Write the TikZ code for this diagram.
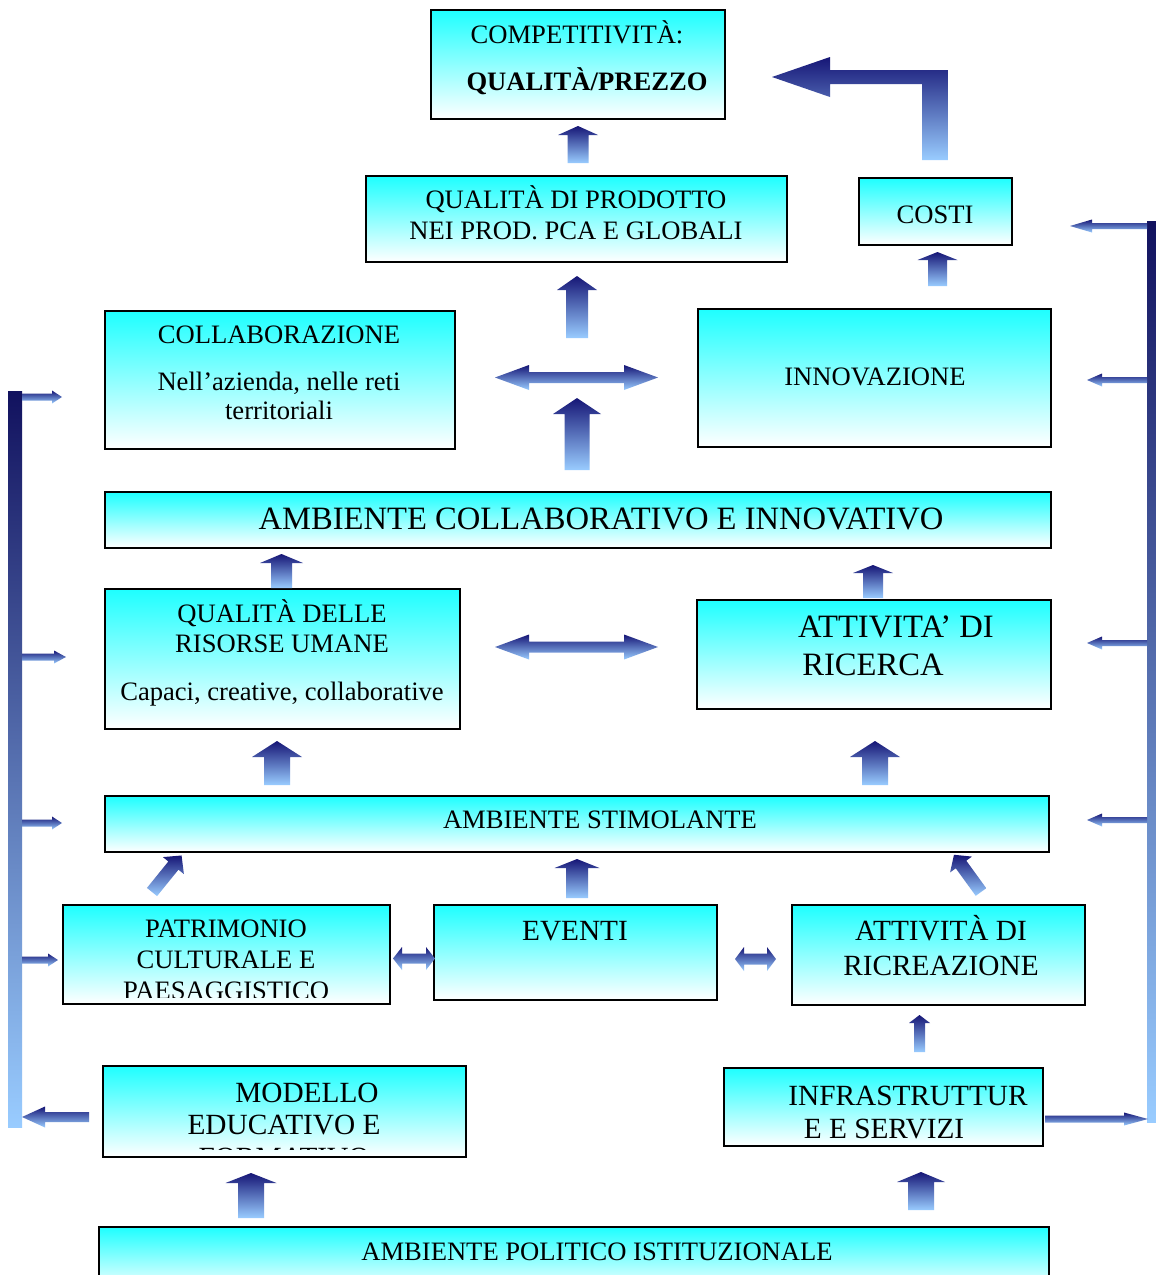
\documentclass[tikz,border=0pt]{standalone}
\usepackage{fontspec}
\setmainfont{Liberation Serif}
\definecolor{navyA}{RGB}{22,22,118}
\definecolor{lightA}{RGB}{153,204,255}
\definecolor{cyanA}{RGB}{30,255,255}
\tikzset{
  boxnode/.style={draw=black, line width=1.5pt, top color=cyanA, bottom color=white, inner sep=0pt},
  arrfill/.style={draw=none, top color=navyA, bottom color=lightA},
  tA/.style={font=\fontsize{26.6}{30}\selectfont, anchor=base, inner sep=0pt},
  tB/.style={font=\fontsize{29.3}{33}\selectfont, anchor=base, inner sep=0pt},
  tC/.style={font=\fontsize{32.6}{36}\selectfont, anchor=base, inner sep=0pt},
}
% box: name, x1, y1, x2, y2
\newcommand\BoxAt[5]{\node[boxnode, minimum width={#4-#2}, minimum height={#5-#3}] (#1) at ({(#2+#4)/2},{(#3+#5)/2}) {};}
% up arrow: cx, tip y, head base y, bottom y, shaft width, head width
\newcommand\UpArr[6]{\path[arrfill] ({#1-#5/2},#4) -- ({#1-#5/2},#3) -- ({#1-#6/2},#3) -- (#1,#2) -- ({#1+#6/2},#3) -- ({#1+#5/2},#3) -- ({#1+#5/2},#4) -- cycle;}
% horizontal arrow: tip x, head base x, tail x, cy, shaft h, head h
\newcommand\HArr[6]{\path[arrfill] (#3,{#4-#5/2}) -- (#2,{#4-#5/2}) -- (#2,{#4-#6/2}) -- (#1,#4) -- (#2,{#4+#6/2}) -- (#2,{#4+#5/2}) -- (#3,{#4+#5/2}) -- cycle;}
% double arrow: x1, x2, head length, cy, shaft h, head h
\newcommand\DArr[6]{\path[arrfill] (#1,#4) -- ({#1+#3},{#4-#6/2}) -- ({#1+#3},{#4-#5/2}) -- ({#2-#3},{#4-#5/2}) -- ({#2-#3},{#4-#6/2}) -- (#2,#4) -- ({#2-#3},{#4+#6/2}) -- ({#2-#3},{#4+#5/2}) -- ({#1+#3},{#4+#5/2}) -- ({#1+#3},{#4+#6/2}) -- cycle;}
\begin{document}
\begin{tikzpicture}[x=1pt, y=-1pt]
\clip (0,0) rectangle (1156,1275);
\fill[white] (0,0) rectangle (1156,1275);

% ---------- boxes ----------
\BoxAt{top}{431}{10}{725}{119}
\BoxAt{prod}{366}{176}{787}{262}
\BoxAt{costi}{859}{178}{1012}{245}
\BoxAt{collab}{105}{311}{455}{449}
\BoxAt{innov}{698}{309}{1051}{447}
\BoxAt{ambc}{105}{492}{1051}{548}
\BoxAt{risorse}{105}{589}{460}{729}
\BoxAt{ricerca}{697}{600}{1051}{709}
\BoxAt{stim}{105}{796}{1049}{852}
\BoxAt{patr}{63}{905}{390}{1004}
\BoxAt{eventi}{434}{905}{717}{1000}
\BoxAt{ricr}{792}{905}{1085}{1005}
\BoxAt{modello}{103}{1066}{466}{1157}
\BoxAt{infra}{724}{1068}{1043}{1146}
\BoxAt{polit}{99}{1227}{1049}{1292}

% ---------- texts ----------
\node[tA] (t1) at (577,43) {COMPETITIVITÀ:};
\node[tA, font=\fontsize{26.6}{30}\selectfont\bfseries] (t2) at (587,90) {QUALITÀ/PREZZO};
\node[tA] (t3) at (576,208) {QUALITÀ DI PRODOTTO};
\node[tA] (t4) at (576,239) {NEI PROD. PCA E GLOBALI};
\node[tA] (t5) at (935,223) {COSTI};
\node[tA] (t6) at (279,343) {COLLABORAZIONE};
\node[tA] (t7) at (279,390) {Nell’azienda, nelle reti};
\node[tA] (t8) at (279,419) {territoriali};
\node[tA] (t9) at (875,385) {INNOVAZIONE};
\node[tC] (t10) at (601,529) {AMBIENTE COLLABORATIVO E INNOVATIVO};
\node[tA] (t11) at (282,622) {QUALITÀ DELLE};
\node[tA] (t12) at (282,652) {RISORSE UMANE};
\node[tA] (t13) at (282,700) {Capaci, creative, collaborative};
\node[tC] (t14) at (896,637) {ATTIVITA’ DI};
\node[tC] (t15) at (873,675) {RICERCA};
\node[tA] (t16) at (600,828) {AMBIENTE STIMOLANTE};
\node[tA] (t17) at (226,937) {PATRIMONIO};
\node[tA] (t18) at (226,968) {CULTURALE E};
\begin{scope}
  \clip (63,905) rectangle (390,997);
  \node[tA] (t19) at (226,999) {PAESAGGISTICO};
\end{scope}
\node[tB] (t20) at (575,940) {EVENTI};
\node[tB] (t21) at (941,940) {ATTIVITÀ DI};
\node[tB] (t22) at (941,975) {RICREAZIONE};
\node[tB] (t23) at (307,1102) {MODELLO};
\node[tB] (t24) at (284,1134) {EDUCATIVO E};
\begin{scope}
  \clip (103,1066) rectangle (466,1149);
  \node[tB] (t25) at (284,1167) {FORMATIVO};
\end{scope}
\node[tB] (t26) at (908,1105) {INFRASTRUTTUR};
\node[tB] (t27) at (884,1138) {E E SERVIZI};
\node[tA] (t28) at (597,1260) {AMBIENTE POLITICO ISTITUZIONALE};

% ---------- block arrows ----------
\UpArr{578}{126}{135}{163}{21}{40}
\UpArr{577}{276}{290}{338}{22}{40}
\DArr{495}{658}{34}{377.5}{11}{25}
\UpArr{577}{398}{414}{470}{25}{48}
\UpArr{937.5}{252}{260}{286}{19}{40}
% bent arrow costi -> competitivita
\path[arrfill] (922,160) -- (948,160) -- (948,70) -- (830,70) -- (830,57) -- (772,77) -- (830,97) -- (830,84) -- (922,84) -- cycle;
\UpArr{281.5}{554}{563}{588}{21}{43}
\UpArr{873}{565}{573}{598}{20}{40}
\DArr{495}{658}{34}{647}{11}{25}
\UpArr{277}{741}{757}{785}{26}{50}
\UpArr{875}{741}{757}{785}{26}{50}
\begin{scope}[rotate around={-39:(152,892)}]
  \UpArr{152}{845}{858}{892}{13}{27}
\end{scope}
\begin{scope}[rotate around={36:(981,892)}]
  \UpArr{981}{846}{858}{892}{13}{27}
\end{scope}
\UpArr{577}{859}{868}{898}{22}{45}
\DArr{393}{435}{9}{958.5}{10}{23}
\DArr{735}{776}{9}{959}{11}{24}
\UpArr{919.5}{1015}{1023}{1052}{11}{21}
\UpArr{251}{1173}{1183}{1218}{26}{51}
\UpArr{921}{1172}{1182}{1210}{26}{48}

% ---------- feedback bars ----------
\path[arrfill, top color=navyA!80!black] (8,391) rectangle (22,1127);
\HArr{62}{52}{22}{397}{7}{13}
\HArr{66}{54}{22}{657}{7}{13}
\HArr{62}{52}{22}{823}{7}{13}
\HArr{58}{48}{22}{960}{7}{13}
\HArr{22}{45}{89}{1117}{10}{21}

\path[arrfill, top color=navyA!80!black] (1147,221) rectangle (1156,1122);
\HArr{1070}{1092}{1147}{226}{6}{13}
\HArr{1087}{1102}{1147}{380}{6}{13}
\HArr{1087}{1102}{1147}{643}{6}{13}
\HArr{1087}{1102}{1147}{820}{6}{13}
\HArr{1148}{1124}{1045}{1119}{7}{13}
\end{tikzpicture}
\end{document}
